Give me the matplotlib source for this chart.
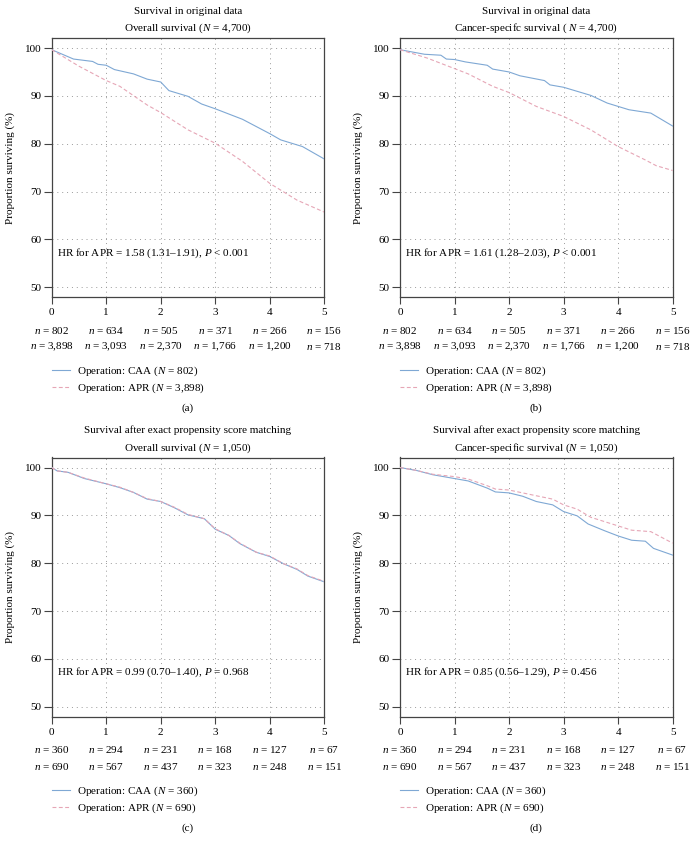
import matplotlib
matplotlib.use("Agg")
import matplotlib.pyplot as plt

plt.rcParams['font.family'] = ['Liberation Serif', 'DejaVu Serif']
plt.rcParams['mathtext.fontset'] = 'custom'
plt.rcParams['mathtext.rm'] = 'Liberation Serif'
plt.rcParams['mathtext.it'] = 'Liberation Serif:italic'

# ---------------- data ----------------
x_ticks = [0, 1, 2, 3, 4, 5]
y_ticks = [50, 60, 70, 80, 90, 100]

# (a) overall survival, original data
t_a_caa = [0, 0.4, 0.75, 0.85, 1.0, 1.15, 1.5, 1.75, 2.0, 2.15, 2.5, 2.75, 3.0, 3.5, 4.0, 4.2, 4.6, 5.0]
s_a_caa = [99.65, 97.7, 97.2, 96.6, 96.4, 95.5, 94.6, 93.5, 92.9, 91.1, 89.9, 88.3, 87.3, 85.1, 82.1, 80.8, 79.4, 76.8]
t_a_apr = [0, 0.5, 1.0, 1.25, 1.75, 2.0, 2.5, 3.0, 3.5, 4.0, 4.5, 5.0]
s_a_apr = [99.65, 96.2, 93.2, 92.0, 88.1, 86.5, 82.9, 80.1, 76.3, 71.7, 68.2, 65.7]

# (b) cancer-specific survival, original data
t_b_caa = [0, 0.45, 0.75, 0.85, 1.0, 1.2, 1.6, 1.7, 2.0, 2.2, 2.65, 2.75, 3.0, 3.5, 3.8, 4.0, 4.2, 4.6, 5.0]
s_b_caa = [99.65, 98.7, 98.5, 97.7, 97.6, 97.1, 96.4, 95.6, 95.0, 94.2, 93.2, 92.3, 91.8, 90.1, 88.5, 87.8, 87.1, 86.4, 83.7]
t_b_apr = [0, 0.5, 1.0, 1.25, 1.7, 2.0, 2.5, 3.0, 3.5, 4.0, 4.5, 4.7, 5.0]
s_b_apr = [99.65, 97.9, 95.7, 94.6, 92.0, 90.7, 87.8, 85.7, 82.9, 79.4, 76.6, 75.4, 74.4]

# (c) overall survival, matched
t_c_caa = [0, 0.1, 0.3, 0.6, 1.0, 1.25, 1.5, 1.75, 2.0, 2.25, 2.5, 2.8, 3.0, 3.25, 3.45, 3.75, 4.0, 4.25, 4.5, 4.7, 5.0]
s_c_caa = [100.0, 99.3, 99.0, 97.7, 96.6, 95.8, 94.8, 93.4, 92.9, 91.6, 90.1, 89.3, 87.1, 85.8, 84.1, 82.3, 81.4, 79.9, 78.7, 77.3, 76.1]
t_c_apr = [0, 0.1, 0.3, 0.6, 1.0, 1.25, 1.5, 1.75, 2.0, 2.25, 2.5, 2.8, 3.0, 3.25, 3.45, 3.75, 4.0, 4.25, 4.5, 4.7, 5.0]
s_c_apr = [100.0, 99.3, 99.0, 97.8, 96.6, 95.9, 94.8, 93.5, 92.9, 91.7, 90.2, 89.3, 87.2, 85.8, 84.2, 82.3, 81.5, 79.9, 78.8, 77.4, 76.2]

# (d) cancer-specific survival, matched
t_d_caa = [0, 0.3, 0.6, 1.0, 1.25, 1.6, 1.75, 2.0, 2.25, 2.5, 2.8, 3.0, 3.25, 3.45, 3.75, 4.0, 4.25, 4.5, 4.65, 5.0]
s_d_caa = [100.0, 99.4, 98.5, 97.7, 97.2, 95.7, 94.9, 94.7, 94.0, 92.9, 92.2, 90.8, 89.9, 88.2, 86.8, 85.7, 84.8, 84.6, 83.1, 81.7]
t_d_apr = [0, 0.3, 0.6, 1.0, 1.25, 1.6, 1.75, 2.0, 2.5, 2.8, 3.0, 3.25, 3.5, 4.0, 4.25, 4.6, 5.0]
s_d_apr = [100.0, 99.4, 98.6, 98.1, 97.6, 96.2, 95.5, 95.3, 94.1, 93.4, 92.2, 91.3, 89.6, 87.8, 86.9, 86.6, 84.2]

risk_a_caa = ["802", "634", "505", "371", "266", "156"]
risk_a_apr = ["3,898", "3,093", "2,370", "1,766", "1,200", "718"]
risk_c_caa = ["360", "294", "231", "168", "127", "67"]
risk_c_apr = ["690", "567", "437", "323", "248", "151"]

titles_top = ["Survival in original data", "Survival in original data",
              "Survival after exact propensity score matching",
              "Survival after exact propensity score matching"]
titles_sub = ["Overall survival ($N$ = 4,700)", "Cancer-specifc survival ( $N$ = 4,700)",
              "Overall survival ($N$ = 1,050)", "Cancer-specific survival ($N$ = 1,050)"]
hr_texts = ["HR for APR = 1.58 (1.31\u20131.91), $P$ < 0.001",
            "HR for APR = 1.61 (1.28\u20132.03), $P$ < 0.001",
            "HR for APR = 0.99 (0.70\u20131.40), $P$ = 0.968",
            "HR for APR = 0.85 (0.56\u20131.29), $P$ = 0.456"]
leg_caa = ["Operation: CAA ($N$ = 802)", "Operation: CAA ($N$ = 802)",
           "Operation: CAA ($N$ = 360)", "Operation: CAA ($N$ = 360)"]
leg_apr = ["Operation: APR ($N$ = 3,898)", "Operation: APR ($N$ = 3,898)",
           "Operation: APR ($N$ = 690)", "Operation: APR ($N$ = 690)"]
panel_labels = ["(a)", "(b)", "(c)", "(d)"]

curves = [
    (t_a_caa, s_a_caa, t_a_apr, s_a_apr, risk_a_caa, risk_a_apr),
    (t_b_caa, s_b_caa, t_b_apr, s_b_apr, risk_a_caa, risk_a_apr),
    (t_c_caa, s_c_caa, t_c_apr, s_c_apr, risk_c_caa, risk_c_apr),
    (t_d_caa, s_d_caa, t_d_apr, s_d_apr, risk_c_caa, risk_c_apr),
]

# ---------------- figure ----------------
W, H = 697, 849
fig = plt.figure(figsize=(W / 100, H / 100), dpi=100)

FS = 8.0
BLUE = '#7fa8d4'
RED = '#e6a6b6'
SPINE = '#444444'
GRID = '#9a9a9a'

ax_h_px = 259.0
ax_w_px = 272.6
positions_px = [(51.7, 297.0), (400.0, 297.0), (51.7, 716.5), (400.0, 716.5)]  # left, bottom (from top)


def px(v):
    return v / ax_h_px


for i, (pos, cv) in enumerate(zip(positions_px, curves)):
    lft, bot = pos
    ax = fig.add_axes([lft / W, 1 - bot / H, ax_w_px / W, ax_h_px / H])
    tc, sc, ta, sa, rc, ra = cv
    l1, = ax.plot(tc, sc, color=BLUE, lw=0.8, label=leg_caa[i], zorder=3)
    l2, = ax.plot(ta, sa, color=RED, lw=0.8, ls=(0, (3.5, 2.2)), label=leg_apr[i], zorder=3)

    ax.set_xlim(0, 5)
    ax.set_ylim(47.95, 102.1)
    ax.set_xticks(x_ticks)
    ax.set_yticks(y_ticks)
    ax.tick_params(axis='both', labelsize=FS, direction='out', color=SPINE, width=0.8)
    ax.tick_params(axis='y', length=6, pad=1.5)
    ax.tick_params(axis='x', length=5, pad=3)
    for sp in ax.spines.values():
        sp.set_color(SPINE)
        sp.set_linewidth(0.9)
    ax.grid(True, color=GRID, lw=0.7, ls=(0, (1, 4)))
    ax.set_axisbelow(True)
    ax.set_ylabel("Proportion surviving (%)", fontsize=FS, labelpad=7)

    ax.text(0.5, 1 + px(27), titles_top[i], transform=ax.transAxes,
            ha='center', va='center', fontsize=FS)
    ax.text(0.5, 1 + px(9.5), titles_sub[i], transform=ax.transAxes,
            ha='center', va='center', fontsize=FS)
    ax.text(0.09, 57.2, hr_texts[i], ha='left', va='center', fontsize=FS)

    for xt, a, b in zip(x_ticks, rc, ra):
        ax.text(xt, -px(33), "$n$ = " + a, transform=ax.get_xaxis_transform(),
                ha='center', va='center', fontsize=FS, clip_on=False)
        ax.text(xt, -px(49.5), "$n$ = " + b, transform=ax.get_xaxis_transform(),
                ha='center', va='center', fontsize=FS, clip_on=False)

    leg = ax.legend(handles=[l1, l2], loc='upper left', bbox_to_anchor=(0.0, -px(68.0)),
                    frameon=False, fontsize=FS, handlelength=1.65, handletextpad=0.6,
                    borderpad=0, borderaxespad=0, labelspacing=0.3)

    ax.text(0.5, -px(111.5), panel_labels[i], transform=ax.transAxes,
            ha='center', va='center', fontsize=FS)

fig.savefig("out.png", dpi=100)
